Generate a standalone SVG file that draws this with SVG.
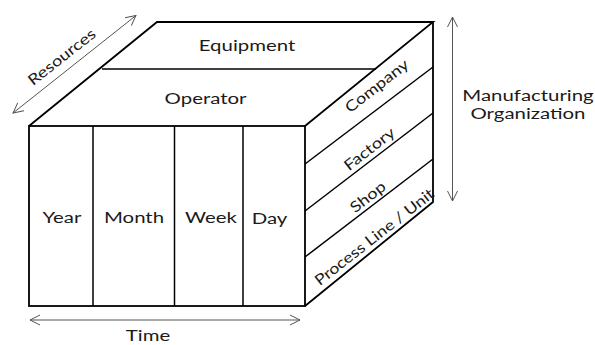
<svg xmlns="http://www.w3.org/2000/svg" width="595" height="345" viewBox="0 0 595 345">
  <style>
    .edge { fill: none; stroke: #000; stroke-width: 1.8; stroke-linejoin: miter; }
    .thin { fill: none; stroke: #000; stroke-width: 1.5; }
    .dim { fill: none; stroke: #555; stroke-width: 1; marker-start: url(#head); marker-end: url(#head); }
    text { font-family: Lato, "Liberation Sans", sans-serif; font-size: 15px; fill: #1a1a1a; text-anchor: middle; }
  </style>
  <defs>
    <marker id="head" viewBox="0 0 12 12" refX="11" refY="6" markerWidth="12" markerHeight="12" markerUnits="userSpaceOnUse" orient="auto-start-reverse">
      <path d="M1,1 L11,6 L1,11" fill="none" stroke="#555" stroke-width="1"/>
    </marker>
  </defs>

  <rect width="595" height="345" fill="#fff"/>

  <!-- top face: resources -->
  <g id="top-face">
    <path class="edge" d="M29,126 L157,22 L433,22 L305,126"/>
    <line class="thin" x1="102" y1="69" x2="376" y2="69"/>
    <text transform="translate(247,51) scale(1.36,1)">Equipment</text>
    <text transform="translate(205.5,104) scale(1.36,1)">Operator</text>
  </g>

  <!-- front face: time -->
  <g id="front-face">
    <rect class="edge" x="29" y="126" width="276" height="180"/>
    <line class="thin" x1="93" y1="126" x2="93" y2="306"/>
    <line class="thin" x1="174.5" y1="126" x2="174.5" y2="306"/>
    <line class="thin" x1="243" y1="126" x2="243" y2="306"/>
    <text transform="translate(62,223) scale(1.36,1)">Year</text>
    <text transform="translate(134,223) scale(1.36,1)">Month</text>
    <text transform="translate(211,223) scale(1.36,1)">Week</text>
    <text transform="translate(269.5,224) scale(1.36,1)">Day</text>
  </g>

  <!-- right face: manufacturing organization -->
  <g id="side-face">
    <path class="edge" d="M433,22 L433,202 L305,306"/>
    <line class="thin" x1="305" y1="164" x2="433" y2="67"/>
    <line class="thin" x1="305" y1="211" x2="433" y2="113"/>
    <line class="thin" x1="305" y1="257" x2="433" y2="159"/>
    <text transform="translate(380,90) rotate(-38) scale(1.22,1)">Company</text>
    <text transform="translate(372.5,153) rotate(-38) scale(1.22,1)">Factory</text>
    <text transform="translate(371,201) rotate(-38) scale(1.22,1)">Shop</text>
    <text transform="translate(377.5,241) rotate(-38) scale(1.18,1)">Process Line / Unit</text>
  </g>

  <!-- axis arrows -->
  <g id="connectors">
    <line class="dim" x1="13" y1="113" x2="136" y2="15.5"/>
    <line class="dim" x1="30" y1="320" x2="300" y2="320"/>
    <line class="dim" x1="452.5" y1="17" x2="452.5" y2="201"/>
  </g>

  <g id="axis-labels">
    <text transform="translate(65,61) rotate(-38.4) scale(1.22,1)">Resources</text>
    <text transform="translate(148,341) scale(1.36,1)">Time</text>
    <text transform="translate(528,100.5) scale(1.36,1)">Manufacturing</text>
    <text transform="translate(528,118.5) scale(1.36,1)">Organization</text>
  </g>
</svg>
